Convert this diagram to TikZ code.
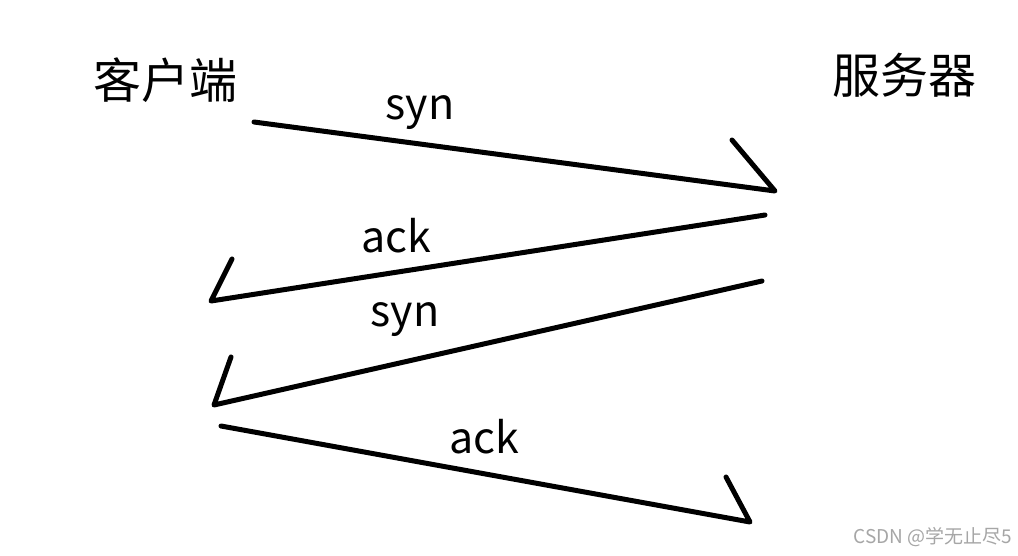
\documentclass[tikz,border=0pt]{standalone}
\usepackage{fontspec}
\setmainfont{Noto Sans CJK SC}
\begin{document}
\begin{tikzpicture}[x=1pt,y=-1pt,
  msg/.style={line width=5pt,line cap=round,line join=round},
  lbl/.style={font=\fontsize{43}{43}\selectfont,inner sep=0pt,anchor=base},
  side/.style={font=\fontsize{48}{48}\selectfont,inner sep=0pt}]
\useasboundingbox[fill=white] (0,0) rectangle (1018,555);
\node[side] (client) at (165,80) {客户端};
\node[side] (server) at (904,75) {服务器};
\coordinate (a1) at (254,122); \coordinate (b1) at (775,191); \coordinate (h1) at (732,140);
\coordinate (a2) at (765,215); \coordinate (b2) at (211,301); \coordinate (h2) at (232,259);
\coordinate (a3) at (762,281); \coordinate (b3) at (214,405); \coordinate (h3) at (231,357);
\coordinate (a4) at (221,426); \coordinate (b4) at (750,522); \coordinate (h4) at (726,477);
\draw[msg] (a1) -- (b1) -- (h1);
\draw[msg] (a2) -- (b2) -- (h2);
\draw[msg] (a3) -- (b3) -- (h3);
\draw[msg] (a4) -- (b4) -- (h4);
\node[lbl] (l1) at (420,119) {syn};
\node[lbl] (l2) at (396,252) {ack};
\node[lbl] (l3) at (405,326) {syn};
\node[lbl] (l4) at (484,453) {ack};
\node[inner sep=0pt,text=black!35,font=\fontsize{19}{19}\selectfont] (wm) at (933,537) {CSDN @学无止尽5};
\end{tikzpicture}
\end{document}
